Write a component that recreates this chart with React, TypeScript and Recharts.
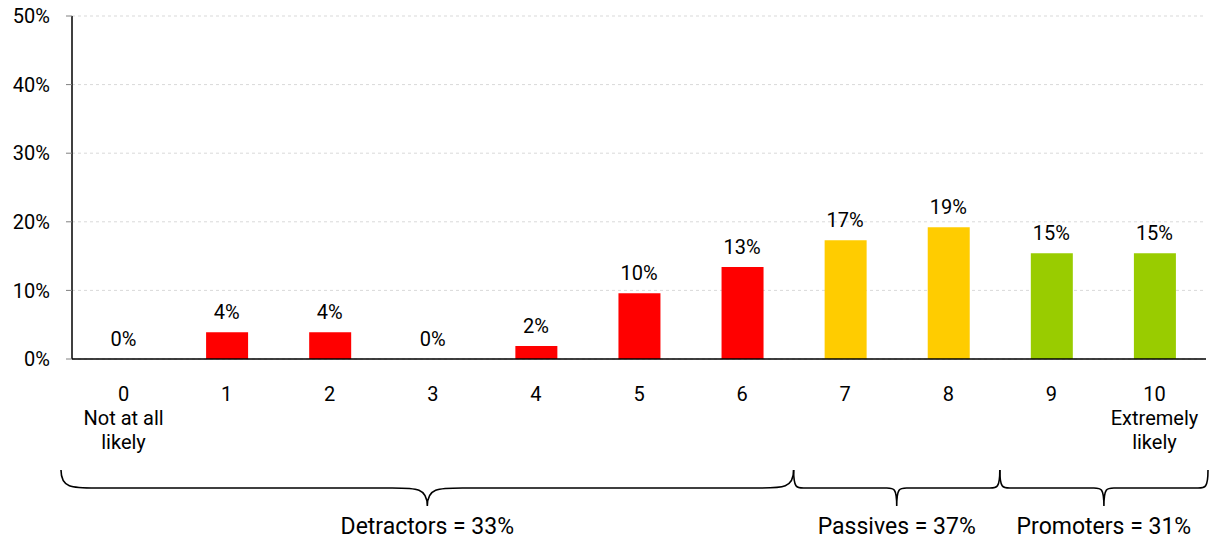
import { Bar, CartesianGrid, Cell, ComposedChart, Customized, LabelList, Line, XAxis, YAxis } from "recharts";

const scores = ["0", "1", "2", "3", "4", "5", "6", "7", "8", "9", "10"];
const shares = [0, 3.9, 3.9, 0, 1.9, 9.6, 13.4, 17.3, 19.2, 15.4, 15.4];
const captions: Record<string, string[]> = {
  "0": ["Not at all", "likely"],
  "10": ["Extremely", "likely"],
};
const yTicks = [0, 10, 20, 30, 40, 50];
const edgeTicks = [0, 1, 2, 3, 4, 5, 6, 7, 8, 9, 10, 11];

const groups = [
  { name: "Detractors", from: 0, to: 7, total: 33, color: "#FF0000" },
  { name: "Passives", from: 7, to: 9, total: 37, color: "#FFCC00" },
  { name: "Promoters", from: 9, to: 11, total: 31, color: "#99CC00" },
];

const W = 1213;
const H = 539;
const LEFT = 72;
const RIGHT = 1206;
const FONT = "Roboto, 'Liberation Sans', sans-serif";

const data = scores.map((score, i) => ({ score, share: shares[i], pos: i + 0.5 }));

const colorFor = (i: number) => groups.find((g) => i >= g.from && i < g.to)!.color;

const ScoreTick = (props: any) => {
  const { x, y, payload } = props;
  const extra = captions[payload.value] || [];
  return (
    <text x={x} y={y} textAnchor="middle" fill="#000" fontSize={20} fontFamily={FONT}>
      <tspan x={x} dy={34}>{payload.value}</tspan>
      {extra.map((line) => (
        <tspan key={line} x={x} dy={24}>
          {line}
        </tspan>
      ))}
    </text>
  );
};

// curly braces under each score group, with the group total below
const Braces = () => {
  const band = (RIGHT - LEFT) / scores.length;
  const ya = 470;
  const yb = 488;
  const yc = 506;
  return (
    <g>
      {groups.map((g, gi) => {
        const x0 = LEFT + g.from * band - (gi === 0 ? 11 : 0);
        const x1 = LEFT + g.to * band + (gi === groups.length - 1 ? 2 : 0);
        const xm = (x0 + x1) / 2;
        const r = (x1 - x0) * 0.048;
        const d = [
          `M ${x0} ${ya}`,
          `C ${x0} ${yb} ${x0 + r * 0.3} ${yb} ${x0 + r} ${yb}`,
          `L ${xm - r} ${yb}`,
          `C ${xm - r * 0.3} ${yb} ${xm} ${yb} ${xm} ${yc}`,
          `C ${xm} ${yb} ${xm + r * 0.3} ${yb} ${xm + r} ${yb}`,
          `L ${x1 - r} ${yb}`,
          `C ${x1 - r * 0.3} ${yb} ${x1} ${yb} ${x1} ${ya}`,
        ].join(" ");
        return (
          <g key={g.name}>
            <path d={d} fill="none" stroke="#000" strokeWidth={1.6} />
            <text x={xm} y={534} textAnchor="middle" fontSize={23} fontFamily={FONT} fill="#000">
              {`${g.name} = ${g.total}%`}
            </text>
          </g>
        );
      })}
    </g>
  );
};

export default function App() {
  return (
    <div style={{ position: "absolute", left: 0, top: 0, background: "#fff" }}>
      <ComposedChart width={W} height={H} data={data} margin={{ top: 16, right: W - RIGHT, left: 0, bottom: 0 }}>
        <CartesianGrid vertical={false} stroke="#d9d9d9" strokeDasharray="3 3" yAxisId="left" xAxisId="cat" />
        <XAxis
          xAxisId="edges"
          type="number"
          dataKey="pos"
          domain={[0, 11]}
          ticks={edgeTicks}
          height={0}
          tick={false}
          tickSize={6}
          tickLine={{ stroke: "#808080" }}
          axisLine={false}
        />
        <XAxis
          xAxisId="cat"
          dataKey="score"
          height={180}
          tickLine={false}
          axisLine={{ stroke: "#000", strokeWidth: 1.5 }}
          tick={<ScoreTick />}
          interval={0}
        />
        <XAxis
          xAxisId="top"
          orientation="top"
          type="number"
          dataKey="pos"
          domain={[0, 11]}
          height={0}
          tick={false}
          tickLine={false}
          axisLine={{ stroke: "#808080", strokeWidth: 2 }}
        />
        <YAxis
          yAxisId="left"
          width={LEFT}
          domain={[0, 50]}
          ticks={yTicks}
          tickFormatter={(v: number) => `${v}%`}
          tickSize={6}
          tickMargin={16}
          tickLine={{ stroke: "#808080" }}
          axisLine={{ stroke: "#000", strokeWidth: 1.5 }}
          tick={{ fill: "#000", fontSize: 20, fontFamily: FONT }}
        />
        <YAxis
          yAxisId="right"
          orientation="right"
          width={0}
          domain={[0, 50]}
          tick={false}
          tickLine={false}
          axisLine={{ stroke: "#808080", strokeWidth: 2 }}
        />
        <Bar dataKey="share" xAxisId="cat" yAxisId="left" barSize={42} isAnimationActive={false}>
          {data.map((d, i) => (
            <Cell key={d.score} fill={colorFor(i)} />
          ))}
        </Bar>
        {/* invisible series carrying the value labels, so zero scores get one too */}
        <Line
          dataKey="share"
          xAxisId="cat"
          yAxisId="left"
          stroke="none"
          dot={false}
          activeDot={false}
          isAnimationActive={false}
        >
          <LabelList
            dataKey="share"
            position="top"
            offset={13}
            formatter={(v: any) => `${Math.round(Number(v))}%`}
            style={{ fill: "#000", fontSize: 20, fontFamily: FONT }}
          />
        </Line>
        <Customized component={<Braces />} />
      </ComposedChart>
    </div>
  );
}
